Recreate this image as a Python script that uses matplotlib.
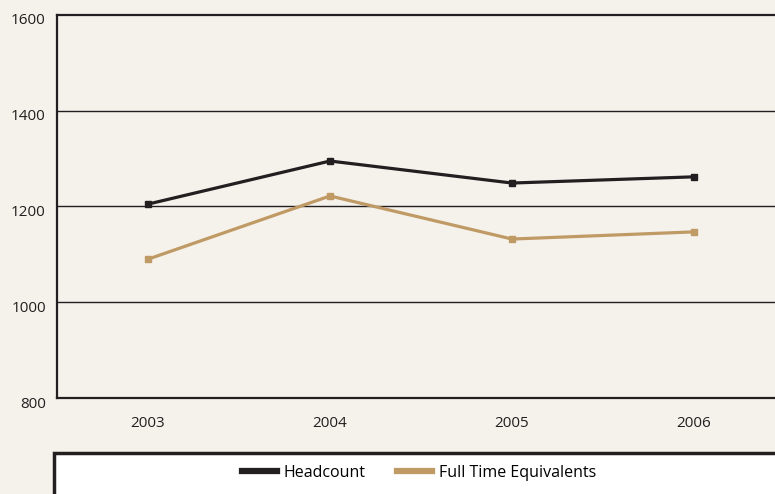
import matplotlib.pyplot as plt
from matplotlib.patches import Rectangle
from matplotlib.lines import Line2D
from matplotlib.transforms import ScaledTranslation

years = ["2003", "2004", "2005", "2006"]
headcount = [1205, 1295, 1249, 1262]
fte = [1090, 1222, 1132, 1147]
y_ticks = [800, 1000, 1200, 1400, 1600]

bg = "#f5f1eb"
dark = "#231f20"
tan = "#bf9a65"

plt.rcParams['font.family'] = ['Open Sans', 'DejaVu Sans']

W, H = 775, 494
fig = plt.figure(figsize=(W / 100, H / 100), dpi=100, facecolor=bg)

# axes placed in pixel terms, running past the right edge like the original
ax = fig.add_axes([57 / W, 1 - 398 / H, (785 - 57) / W, (398 - 15) / H])
ax.set_facecolor(bg)

x = range(len(years))
ax.plot(x, headcount, color=dark, lw=2.3, marker="s", ms=5, zorder=3)
ax.plot(x, fte, color=tan, lw=2.3, marker="s", ms=5, zorder=3)

ax.set_xlim(-0.5, 3.5)
ax.set_ylim(800, 1600)
ax.set_xticks(list(x))
ax.set_xticklabels(years)
ax.set_yticks(y_ticks)
ax.tick_params(length=0, labelsize=11, colors=dark)
ax.tick_params(axis="y", pad=8)
ax.tick_params(axis="x", pad=13)

# y labels sit a little below their lines in the original
shift = ScaledTranslation(0, -4 / 100, fig.dpi_scale_trans)
for lbl in ax.get_yticklabels():
    lbl.set_transform(lbl.get_transform() + shift)

for v in y_ticks[1:-1]:
    ax.axhline(v, color=dark, lw=1.0, zorder=1)

for side in ["left", "bottom", "top"]:
    ax.spines[side].set_color(dark)
    ax.spines[side].set_linewidth(1.6)
ax.spines["right"].set_visible(False)

# legend box at the bottom, running off the figure
fig.patches.append(Rectangle((54 / W, -0.05), (790 - 54) / W, (494 - 453) / H + 0.05,
                             transform=fig.transFigure, facecolor="white",
                             edgecolor=dark, lw=2.5, zorder=0))
handles = [Line2D([], [], color=dark, lw=4.5),
           Line2D([], [], color=tan, lw=4.5)]
fig.legend(handles, ["Headcount", "Full Time Equivalents"], loc="center",
           bbox_to_anchor=(419 / W, 1 - 473 / H), ncol=2, frameon=False,
           fontsize=11.5, handlelength=2.2, handletextpad=0.4, columnspacing=2.0)

fig.savefig("out.png", dpi=100, facecolor=bg)
